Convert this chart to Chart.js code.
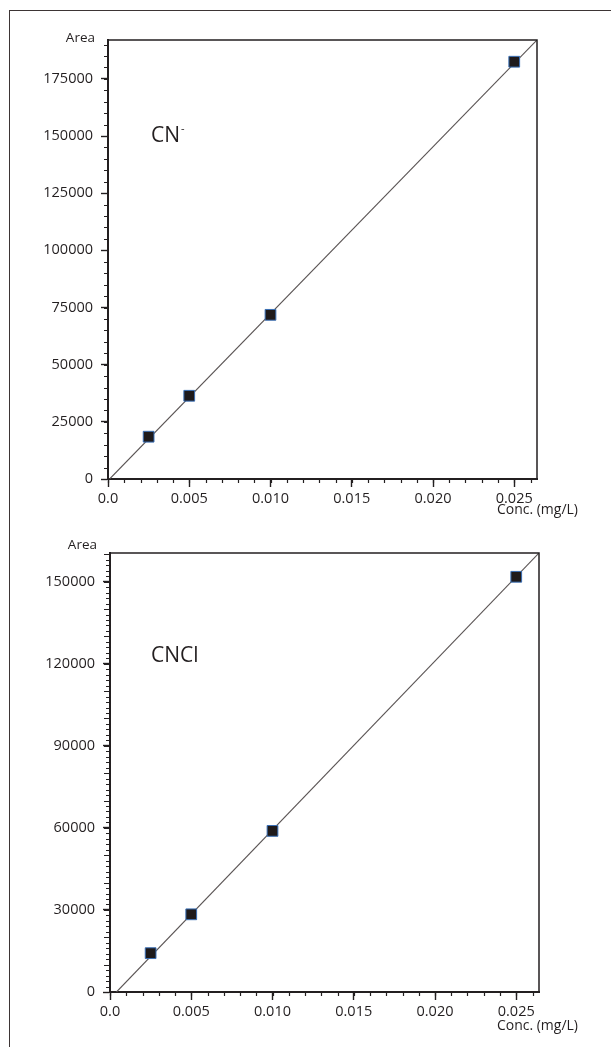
<!DOCTYPE html>
<html>
<head>
<meta charset="utf-8">
<script src="https://cdn.jsdelivr.net/npm/chart.js@4.4.1/dist/chart.umd.min.js"></script>
<style>
	html, body { margin: 0; padding: 0; background: #fff; }
	body { width: 611px; height: 1047px; position: relative; overflow: hidden; }
	#frame { position: absolute; left: 9px; top: 10px; width: 640px; height: 1100px;
		border-left: 1px solid #3d3535; border-top: 1px solid #3d3535; }
	canvas { position: absolute; left: 0; }
	#chartCn { top: 0; }
	#chartCncl { top: 510px; }
</style>
</head>
<body>
<div id="frame"></div>
<canvas id="chartCn" width="611" height="520"></canvas>
<canvas id="chartCncl" width="611" height="537"></canvas>
<script>
"use strict";

// concentrations (mg/L)
const conc = [0.0025, 0.005, 0.010, 0.025];

// peak areas
const cnArea = [18500, 36400, 71800, 182500];
const cnclArea = [14200, 28400, 58900, 151800];

// fitted line end points, as drawn
const cnFitX = [0.0001, 0.0264];
const cnFitY = [0, 192000];
const cnclFitX = [0.0004, 0.0264];
const cnclFitY = [0, 160500];

// tick labels
const xTicks = [0, 0.005, 0.010, 0.015, 0.020, 0.025];
const cnYTicks = [0, 25000, 50000, 75000, 100000, 125000, 150000, 175000];
const cnclYTicks = [0, 30000, 60000, 90000, 120000, 150000];

const ink = "#231f20";
const FONT = "'Open Sans', 'Noto Sans', sans-serif";

// minor ticks, plot box and the little labels
const decor = {
	id: "decor",
	afterDraw(chart, args, opts) {
		let ctx = chart.ctx;
		let a = chart.chartArea;
		let xs = chart.scales.x;
		let ys = chart.scales.y;
		ctx.save();
		ctx.strokeStyle = ink;
		ctx.lineWidth = 1.2;
		ctx.beginPath();
		for (let i = 0; i * opts.xStep <= xs.max + 1e-12; i++) {
			let px = Math.round(xs.getPixelForValue(i * opts.xStep)) + 0.5;
			ctx.moveTo(px, a.bottom);
			ctx.lineTo(px, a.bottom + 4);
		}
		for (let i = 0; i * opts.yStep <= ys.max; i++) {
			let v = i * opts.yStep;
			let py = Math.round(ys.getPixelForValue(v)) + 0.5;
			let len = opts.yMid && v % opts.yMid === 0 ? 6 : 4;
			ctx.moveTo(a.left - len, py);
			ctx.lineTo(a.left, py);
		}
		ctx.stroke();

		// top and right side of the box
		ctx.lineWidth = 1.5;
		ctx.beginPath();
		ctx.moveTo(a.left, a.top);
		ctx.lineTo(a.right, a.top);
		ctx.lineTo(a.right, a.bottom);
		ctx.stroke();

		ctx.fillStyle = ink;
		ctx.textBaseline = "middle";
		ctx.font = "13.5px " + FONT;
		ctx.textAlign = "right";
		ctx.fillText("Area", a.left - 13, a.top + opts.areaDy);
		ctx.font = "14px " + FONT;
		ctx.fillText("Conc. (mg/L)", a.right + opts.concDx, a.bottom + opts.concDy);

		ctx.textAlign = "left";
		ctx.textBaseline = "alphabetic";
		ctx.font = "21px " + FONT;
		ctx.fillText(opts.name, opts.nameX, opts.nameY);
		if (opts.sup) {
			let w = ctx.measureText(opts.name).width;
			ctx.font = "11px " + FONT;
			ctx.fillText(opts.sup, opts.nameX + w + 1, opts.nameY - 10);
		}
		ctx.restore();
	},
};

function make_chart(dom_id, area, fitX, fitY, yTicks, yMax, layout, deco) {
	let ctx = document.getElementById(dom_id).getContext("2d");
	return new Chart(ctx, {
		type: "scatter",
		data: {
			datasets: [
				{
					data: conc.map((c, i) => ({ x: c, y: area[i] })),
					pointStyle: "rect",
					pointRadius: 7.6,
					pointHoverRadius: 7.6,
					backgroundColor: "#1e1a1b",
					borderColor: "#3a6fb5",
					borderWidth: 1,
					order: 0,
				},
				{
					data: fitX.map((x, i) => ({ x: x, y: fitY[i] })),
					showLine: true,
					pointRadius: 0,
					borderColor: "#5a5454",
					borderWidth: 1.1,
					order: 1,
				},
			],
		},
		options: {
			responsive: false,
			animation: false,
			layout: { padding: layout.padding },
			plugins: {
				legend: { display: false },
				tooltip: { enabled: false },
				decor: deco,
			},
			scales: {
				x: {
					type: "linear",
					min: 0,
					max: 0.0264,
					afterBuildTicks: (s) => { s.ticks = xTicks.map((v) => ({ value: v })); },
					afterFit: (s) => { s.height = 30; },
					border: { color: ink, width: 2 },
					grid: { drawOnChartArea: false, tickLength: 8, tickColor: ink, tickWidth: 1.4 },
					ticks: {
						color: ink,
						padding: 3,
						maxRotation: 0,
						font: { family: FONT, size: 14.5 },
						callback: (v) => (v === 0 ? "0.0" : v.toFixed(3)),
					},
				},
				y: {
					type: "linear",
					min: 0,
					max: yMax,
					afterBuildTicks: (s) => { s.ticks = yTicks.map((v) => ({ value: v })); },
					afterFit: (s) => { s.width = layout.yWidth; },
					border: { color: ink, width: 2 },
					grid: { drawOnChartArea: false, tickLength: 7, tickColor: ink, tickWidth: 1.4 },
					ticks: {
						color: ink,
						padding: 8,
						font: { family: FONT, size: 14.5 },
						callback: (v) => String(v),
					},
				},
			},
		},
		plugins: [decor],
	});
}

make_chart("chartCn", cnArea, cnFitX, cnFitY, cnYTicks, 192000,
	{ padding: { left: 0, top: 40, right: 74, bottom: 11 }, yWidth: 108 },
	{ xStep: 0.001, yStep: 5000, yMid: 0, areaDy: -2, concDx: 41, concDy: 31,
	  name: "CN", sup: "-", nameX: 151, nameY: 142 });

make_chart("chartCncl", cnclArea, cnclFitX, cnclFitY, cnclYTicks, 160500,
	{ padding: { left: 0, top: 43, right: 72, bottom: 25 }, yWidth: 110 },
	{ xStep: 0.001, yStep: 2000, yMid: 10000, areaDy: -8, concDx: 39, concDy: 34,
	  name: "CNCl", sup: "", nameX: 151, nameY: 662 - 510 });
</script>
</body>
</html>
